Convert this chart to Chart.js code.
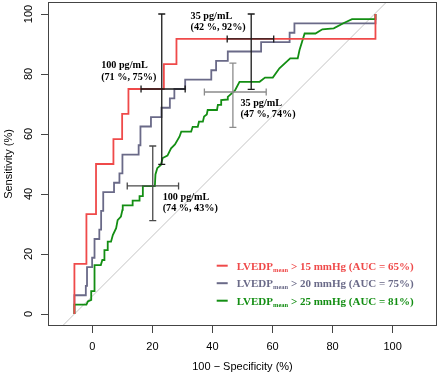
<!DOCTYPE html>
<html>
<head>
<meta charset="utf-8">
<script src="https://cdn.jsdelivr.net/npm/chart.js@4.4.1/dist/chart.umd.min.js"></script>
<style>
  html, body { margin: 0; padding: 0; background: #fff; }
  #wrap { width: 440px; height: 374px; }
</style>
</head>
<body>
<div id="wrap"><canvas id="canvas" width="440" height="374"></canvas></div>
<script>
// ROC curves, x = 100 - specificity (%), y = sensitivity (%)
const redX = [-6, -6, -2, -2, 1.2, 1.2, 7, 7, 9.9, 9.9, 12, 12, 23.8, 23.8, 28, 28, 94.3, 94.3];
const redY = [0, 16.7, 16.7, 33.3, 33.3, 50, 50, 58.3, 58.3, 66.7, 66.7, 75, 75, 83.3, 83.3, 91.7, 91.7, 100];

const grayX = [-6, -6, -2.2, -2.2, -1.8, -1.8, -0.1, -0.1, 0.7, 0.7, 2.3, 2.3, 2.9, 2.9, 3.6, 3.6, 7.2, 7.2, 9, 9, 10, 10,
  15.4, 15.4, 16, 16, 19.5, 19.5, 23, 23, 25.8, 25.8, 27.3, 27.3, 30.9, 30.9, 39.6, 39.6, 41.2, 41.2, 45.1, 45.1,
  56.2, 56.2, 65.7, 65.7, 67.3, 67.3, 94.3, 94.3];
const grayY = [0, 6.25, 6.25, 9.4, 9.4, 15.6, 15.6, 18.75, 18.75, 25, 25, 28.1, 28.1, 34.4, 34.4, 40.6, 40.6, 43.75, 43.75, 46.9, 46.9, 53.1,
  53.1, 56.25, 56.25, 62.5, 62.5, 65.6, 65.6, 68.75, 68.75, 71.9, 71.9, 75, 75, 78.1, 78.1, 81.25, 81.25, 84.4, 84.4, 87.5,
  87.5, 90.6, 90.6, 93.75, 93.75, 96.9, 96.9, 100];

const greenX = [-6, -6, -2, -1.5, -0.4, -0.4, 0.7, 0.7, 2.8, 3.3, 4, 4, 5.1, 5.1, 6.2, 6.8, 7.9, 8.4, 9.5, 10, 10.1,
  13.4, 13.4, 15.7, 15.7, 16.8, 16.8, 20.8, 21, 21.6, 22.8, 23.4, 25, 26.2, 27.5, 29, 29.6, 32.9, 33.4, 35.1, 35.5,
  36.8, 37.2, 38.1, 38.4, 41.5, 41.8, 42.9, 42.9, 45, 45.1, 46.8, 47.5, 49, 55.7, 57.5, 60.1, 62.3, 65.9, 68.4, 69,
  70.7, 74.3, 76.6, 80.4, 83.6, 86.5, 94.3, 94.3];
const greenY = [0, 3.1, 3.1, 4.2, 4.7, 7.6, 7.6, 16.3, 16.3, 18, 18, 21.3, 21.3, 24.1, 24.1, 26.3, 28.6, 31.3, 32.5, 34.7, 36.2,
  36.2, 37.8, 37.8, 39.3, 39.3, 42.6, 42.6, 46.5, 48.6, 49.7, 52, 52.8, 55.2, 56.5, 59.1, 60.8, 60.8, 62.4, 62.4, 64.1,
  64.1, 65.8, 66.5, 68, 68, 69.7, 69.7, 71.3, 71.5, 72.4, 73.9, 74.5, 77.4, 77.4, 78.8, 78.8, 81.9, 85.2, 85.2, 88,
  93.5, 93.5, 94.9, 95.2, 96.9, 98.3, 98.3, 100];

// grey reference diagonal
const refX = [-20, 120];
const refY = [-14, 126];

// cut-off points with their confidence ranges
const ciCenterX = [23.1, 52.9, 20.1, 46.8];
const ciCenterY = [75, 91.7, 42.7, 74];
const ciXLow = [16.2, 44.9, 11.6, 37.3];
const ciXHigh = [30.9, 60.4, 28.7, 57.9];
const ciYLow = [49.9, 74.9, 31.1, 62.2];
const ciYHigh = [100, 100, 56, 83.6];
const ciLabels = [['100 pg/mL', '(71 %, 75%)'], ['35 pg/mL', '(42 %, 92%)'], ['100 pg/mL', '(74 %, 43%)'], ['35 pg/mL', '(47 %, 74%)']];

const xTicks = [0, 20, 40, 60, 80, 100];
const yTicks = [0, 20, 40, 60, 80, 100];
const seriesNames = ['> 15 mmHg (AUC = 65%)', '> 20 mmHg (AUC = 75%)', '> 25 mmHg (AUC = 81%)'];

const RED = '#ef4a4a';
const GRAY = '#6a6a88';
const GREEN = '#138e13';
const ciColors = ['#1a1a1a', '#1a1a1a', '#4a4a4a', '#8c8c8c'];
// where each cut-off note starts (data units, first line)
const notePos = [[2.9, 82.8], [32.7, 99.3], [23.4, 38.9], [49.3, 70.2]];

function pts(xs, ys) {
  return xs.map((x, i) => ({ x: x, y: ys[i] }));
}

const decor = {
  id: 'decor',
  afterDatasetsDraw(chart) {
    const { ctx, chartArea: a } = chart;
    const xs = chart.scales.x, ys = chart.scales.y;
    ctx.save();

    // crosshairs
    ciCenterX.forEach((cx, i) => {
      const px = xs.getPixelForValue(cx), py = ys.getPixelForValue(ciCenterY[i]);
      const x1 = xs.getPixelForValue(ciXLow[i]), x2 = xs.getPixelForValue(ciXHigh[i]);
      const y1 = ys.getPixelForValue(ciYLow[i]), y2 = ys.getPixelForValue(ciYHigh[i]);
      const c = 3.5;
      ctx.strokeStyle = ciColors[i];
      ctx.lineWidth = 1.3;
      ctx.beginPath();
      ctx.moveTo(x1, py); ctx.lineTo(x2, py);
      ctx.moveTo(x1, py - c); ctx.lineTo(x1, py + c);
      ctx.moveTo(x2, py - c); ctx.lineTo(x2, py + c);
      ctx.moveTo(px, y1); ctx.lineTo(px, y2);
      ctx.moveTo(px - c, y1); ctx.lineTo(px + c, y1);
      ctx.moveTo(px - c, y2); ctx.lineTo(px + c, y2);
      ctx.stroke();
    });

    // notes
    ctx.fillStyle = '#000';
    ctx.font = "bold 10.2px 'Liberation Serif'";
    ctx.textAlign = 'left';
    ctx.textBaseline = 'middle';
    ciLabels.forEach((lines, i) => {
      const px = xs.getPixelForValue(notePos[i][0]);
      const py = ys.getPixelForValue(notePos[i][1]);
      lines.forEach((t, j) => ctx.fillText(t, px, py + j * 11.3));
    });

    // legend
    const colors = [RED, GRAY, GREEN];
    const lx = a.right - 220.3;
    seriesNames.forEach((name, i) => {
      const cy = a.bottom - 60.3 + i * 17.5;
      ctx.strokeStyle = colors[i];
      ctx.lineWidth = 2;
      ctx.beginPath();
      ctx.moveTo(lx, cy); ctx.lineTo(lx + 11, cy);
      ctx.stroke();
      ctx.fillStyle = colors[i];
      ctx.textBaseline = 'alphabetic';
      const base = cy + 3.8;
      let tx = lx + 20;
      ctx.font = "bold 11px 'Liberation Serif'";
      ctx.fillText('LVEDP', tx, base);
      tx += ctx.measureText('LVEDP').width;
      ctx.font = "bold 6.5px 'Liberation Serif'";
      ctx.fillText('mean', tx, base + 2);
      tx += ctx.measureText('mean').width;
      ctx.font = "bold 11px 'Liberation Serif'";
      ctx.fillText(' ' + name, tx, base);
    });

    // y tick labels, rotated like the original
    ctx.fillStyle = '#000';
    ctx.font = "11px 'Liberation Sans'";
    ctx.textAlign = 'center';
    ctx.textBaseline = 'middle';
    yTicks.forEach(v => {
      const py = ys.getPixelForValue(v);
      ctx.save();
      ctx.translate(29, py);
      ctx.rotate(-Math.PI / 2);
      ctx.fillText(String(v), 0, 0);
      ctx.restore();
    });

    // frame
    ctx.strokeStyle = '#444';
    ctx.lineWidth = 1;
    ctx.strokeRect(Math.round(a.left) + 0.5, Math.round(a.top) + 0.5, Math.round(a.width) - 1, Math.round(a.height) - 1);
    ctx.restore();
  }
};

const ctx = document.getElementById('canvas').getContext('2d');
const myChart = new Chart(ctx, {
  type: 'scatter',
  data: {
    datasets: [
      { label: 'ref', data: pts(refX, refY), showLine: true, borderColor: '#c4c4c4', borderWidth: 1, pointRadius: 0, order: 4 },
      { label: 'LVEDP > 15', data: pts(redX, redY), showLine: true, borderColor: RED, borderWidth: 1.8, pointRadius: 0, order: 1 },
      { label: 'LVEDP > 20', data: pts(grayX, grayY), showLine: true, borderColor: GRAY, borderWidth: 1.8, pointRadius: 0, order: 3 },
      { label: 'LVEDP > 25', data: pts(greenX, greenY), showLine: true, borderColor: GREEN, borderWidth: 1.8, pointRadius: 0, order: 2 }
    ]
  },
  options: {
    responsive: false,
    animation: false,
    events: [],
    layout: { padding: { left: 0, top: 2, right: 3, bottom: 0 } },
    plugins: { legend: { display: false }, tooltip: { enabled: false } },
    scales: {
      x: {
        type: 'linear',
        min: -14.8,
        max: 114.8,
        afterBuildTicks: s => { s.ticks = xTicks.map(v => ({ value: v })); },
        afterFit: s => { s.height = 48; },
        grid: { drawOnChartArea: false, drawTicks: true, tickLength: 7, color: '#444' },
        border: { display: false },
        ticks: { color: '#000', font: { family: 'Liberation Sans', size: 11 }, padding: 7, maxRotation: 0, autoSkip: false },
        title: { display: true, text: '100 − Specificity (%)', color: '#000', font: { family: 'Liberation Sans', size: 11 }, padding: { top: 0, bottom: 0 } }
      },
      y: {
        type: 'linear',
        min: -4,
        max: 104,
        afterBuildTicks: s => { s.ticks = yTicks.map(v => ({ value: v })); },
        afterFit: s => { s.width = 48; },
        grid: { drawOnChartArea: false, drawTicks: true, tickLength: 7, color: '#444' },
        border: { display: false },
        ticks: { display: false },
        title: { display: true, text: 'Sensitivity (%)', color: '#000', font: { family: 'Liberation Sans', size: 11 }, padding: { top: 2.4, bottom: 0 } }
      }
    }
  },
  plugins: [decor]
});
</script>
</body>
</html>
